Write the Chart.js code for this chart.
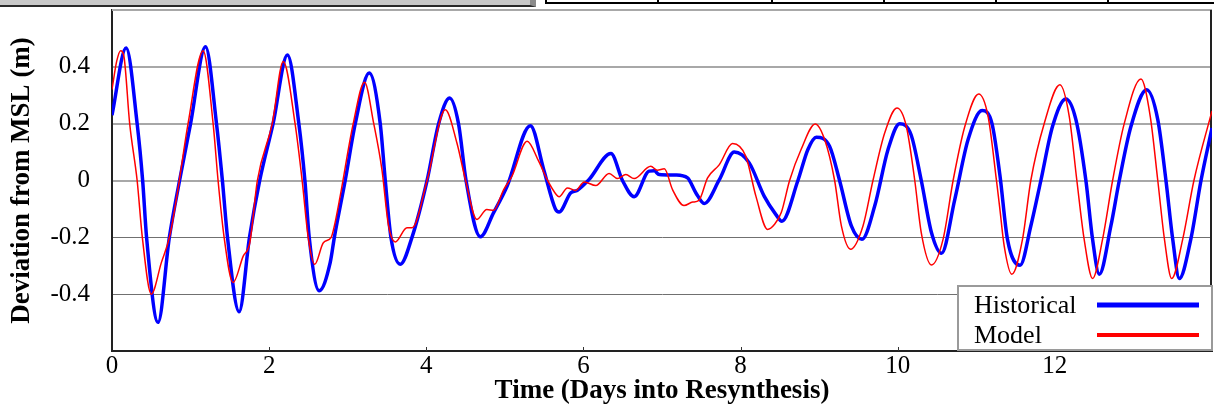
<!DOCTYPE html>
<html>
<head>
<meta charset="utf-8">
<script src="https://cdn.jsdelivr.net/npm/chart.js@4/dist/chart.umd.min.js"></script>
<style>
  html, body { margin: 0; padding: 0; background: #fff; }
  #wrap { position: relative; width: 1214px; height: 409px; overflow: hidden; background: #fff; }
  #chart { position: absolute; left: 0; top: 0; }
  .toolbar { position: absolute; left: 0; top: 0; width: 530px; height: 5px; background: #c9c9c9;
             border-bottom: 2px solid #2a2a2a; border-right: 6px solid #8a8a8a; }
  .cells { position: absolute; left: 545px; top: 0; width: 667px; height: 2px;
           border-left: 2px solid #000; border-bottom: 2px solid #000; }
  .cells i { position: absolute; top: 0; width: 2px; height: 2px; background: #000; }
</style>
</head>
<body>
<div id="wrap">
  <canvas id="chart" width="1214" height="409"></canvas>
  <div class="toolbar"></div>
  <div class="cells"><i style="left:110px"></i><i style="left:224px"></i><i style="left:336px"></i><i style="left:448px"></i><i style="left:560px"></i></div>
</div>
<script>
// Sea level deviation from mean sea level, in metres, against days into the resynthesis run
const histTime = [
  0.00, 0.18, 0.32, 0.39, 0.44, 0.586, 0.73, 0.86, 1.00, 1.19, 1.33, 1.405, 1.47, 1.618, 1.75, 1.88,
  2.05, 2.233, 2.378, 2.455, 2.51, 2.637, 2.777, 2.83, 2.968, 3.096, 3.274, 3.414, 3.478, 3.55, 3.669,
  3.818, 4.01, 4.157, 4.297, 4.41, 4.506, 4.688, 4.857, 5.028, 5.325, 5.494, 5.643, 5.69, 5.84, 5.92,
  6.07, 6.35, 6.497, 6.646, 6.837, 6.90, 6.964, 7.176, 7.325, 7.43, 7.537, 7.73, 7.92, 8.11, 8.30,
  8.45, 8.526, 8.73, 8.857, 8.964, 9.134, 9.26, 9.41, 9.545, 9.707, 9.877, 10.025, 10.17, 10.30,
  10.43, 10.557, 10.726, 10.896, 11.074, 11.20, 11.30, 11.397, 11.558, 11.694, 11.822, 11.97, 12.14,
  12.268, 12.395, 12.48, 12.565, 12.713, 12.82, 12.968, 13.168, 13.31, 13.414, 13.50, 13.584, 13.73,
  13.86, 14.00
];
const histLevel = [
  0.23, 0.466, 0.20, 0.00, -0.20, -0.499, -0.20, 0.00, 0.20, 0.471, 0.20, 0.00, -0.20, -0.462, -0.20, 0.00,
  0.20, 0.442, 0.20, 0.00, -0.20, -0.388, -0.289, -0.20, 0.00, 0.20, 0.378, 0.20, 0.00, -0.20, -0.295,
  -0.20, 0.00, 0.20, 0.29, 0.20, 0.00, -0.198, -0.113, -0.02, 0.193, 0.039, -0.100, -0.111, -0.043, -0.035,
  0.003, 0.095, 0.00, -0.057, 0.033, 0.034, 0.021, 0.019, 0.009, -0.043, -0.081, 0.003, 0.10, 0.062, -0.055,
  -0.12, -0.143, 0.00, 0.109, 0.152, 0.12, 0.00, -0.16, -0.207, -0.09, 0.109, 0.20, 0.161, 0.00,
  -0.184, -0.256, -0.067, 0.144, 0.246, 0.20, 0.02, -0.207, -0.298, -0.16, 0.00, 0.19, 0.287,
  0.214, 0.00, -0.207, -0.33, -0.16, 0.00, 0.19, 0.319, 0.214, 0.00, -0.207, -0.345, -0.207,
  0.00, 0.185
];
const modelTime = [
  0.00, 0.06, 0.11, 0.15, 0.225, 0.32, 0.386, 0.50, 0.628, 0.735, 0.84, 0.968, 1.16, 1.287, 1.35, 1.427,
  1.54, 1.67, 1.754, 1.85, 2.04, 2.18, 2.33, 2.42, 2.497, 2.58, 2.69, 2.79, 2.83, 2.904, 3.07, 3.214,
  3.33, 3.435, 3.52, 3.605, 3.754, 3.82, 4.01, 4.242, 4.39, 4.497, 4.645, 4.77, 4.857, 4.985, 5.09,
  5.283, 5.43, 5.537, 5.656, 5.69, 5.796, 5.90, 6.01, 6.157, 6.327, 6.433, 6.54, 6.645, 6.857, 6.94,
  7.03, 7.134, 7.28, 7.39, 7.47, 7.58, 7.73, 7.898, 8.067, 8.195, 8.344, 8.433, 8.518, 8.624, 8.77,
  8.95, 9.07, 9.197, 9.283, 9.40, 9.558, 9.685, 9.834, 9.99, 10.11, 10.217, 10.30, 10.43, 10.577,
  10.705, 10.854, 11.03, 11.15, 11.257, 11.30, 11.355, 11.452, 11.588, 11.694, 11.864, 12.064, 12.183,
  12.28, 12.373, 12.48, 12.607, 12.735, 12.883, 13.096, 13.214, 13.31, 13.395, 13.487, 13.627, 13.77,
  14.00
];
const modelLevel = [
  0.32, 0.42, 0.457, 0.44, 0.20, 0.00, -0.20, -0.40, -0.289, -0.195, -0.03, 0.20, 0.457, 0.20, 0.00, -0.20,
  -0.359, -0.266, -0.219, 0.00, 0.20, 0.419, 0.20, 0.00, -0.20, -0.295, -0.219, -0.20, -0.16, -0.055, 0.20, 0.346,
  0.202, 0.039, -0.16, -0.216, -0.166, -0.166, 0.00, 0.249, 0.132, 0.004, -0.137, -0.102, -0.105, -0.032, 0.015,
  0.138, 0.068, 0.004, -0.050, -0.057, -0.026, -0.035, -0.005, -0.018, 0.025, 0.007, 0.021, 0.007, 0.05, 0.036,
  0.041, -0.032, -0.088, -0.076, -0.07, 0.009, 0.056, 0.13, 0.085, -0.055, -0.172, -0.154, -0.113, 0.00, 0.109,
  0.199, 0.144, 0.00, -0.16, -0.242, -0.16, 0.00, 0.167, 0.255, 0.19, 0.00, -0.184, -0.297, -0.207,
  0.00, 0.19, 0.304, 0.226, 0.00, -0.10, -0.23, -0.33, -0.207, 0.00, 0.20, 0.337, 0.226,
  0.00, -0.207, -0.345, -0.207, 0.00, 0.20, 0.357, 0.226, 0.00, -0.207, -0.345, -0.207, 0.00,
  0.245
];
const seriesNames = ['Historical', 'Model'];
const xTickValues = [0, 2, 4, 6, 8, 10, 12];
const yTickValues = [-0.4, -0.2, 0, 0.2, 0.4];

const SERIF = "'Liberation Serif', 'Times New Roman', serif";
const toPoints = (xs, ys) => xs.map((t, i) => ({ x: t, y: ys[i] }));

// Frame pieces Chart.js has no option for: grey top edge, right edge, inner x tick marks, boxed legend
const framePlugin = {
  id: 'frame',
  beforeDatasetsDraw(chart) {
    const { ctx, chartArea: { left, right, top, bottom } } = chart;
    ctx.save();
    ctx.strokeStyle = '#a8a8a8';
    ctx.lineWidth = 2;
    ctx.beginPath(); ctx.moveTo(left, top); ctx.lineTo(right, top); ctx.stroke();
    ctx.strokeStyle = '#222';
    ctx.beginPath(); ctx.moveTo(right - 1, top); ctx.lineTo(right - 1, bottom); ctx.stroke();
    const xs = chart.scales.x;
    ctx.lineWidth = 1;
    ctx.strokeStyle = '#333';
    xTickValues.forEach(v => {
      if (v === 0) return;
      const px = Math.round(xs.getPixelForValue(v)) + 0.5;
      ctx.beginPath(); ctx.moveTo(px, bottom); ctx.lineTo(px, bottom - 4); ctx.stroke();
    });
    ctx.restore();
  },
  afterDraw(chart) {
    const { ctx, chartArea: { right, bottom } } = chart;
    const w = 256, h = 66;
    const bx = right + 1 - w, by = bottom - h;
    ctx.save();
    ctx.fillStyle = '#fff';
    ctx.fillRect(bx, by, w, h);
    ctx.strokeStyle = '#9a9a9a';
    ctx.lineWidth = 2;
    ctx.strokeRect(bx + 1, by + 1, w - 2, h - 2);
    ctx.font = '26px ' + SERIF;
    ctx.fillStyle = '#000';
    ctx.textBaseline = 'alphabetic';
    ctx.textAlign = 'left';
    chart.data.datasets.forEach((ds, i) => {
      const rowY = by + 28 + i * 30;
      ctx.fillText(ds.label, bx + 17, rowY);
      ctx.strokeStyle = ds.borderColor;
      ctx.lineWidth = i === 0 ? 5 : 4;
      ctx.beginPath();
      ctx.moveTo(bx + 140, rowY - 8);
      ctx.lineTo(bx + 242, rowY - 8);
      ctx.stroke();
    });
    ctx.restore();
  }
};

new Chart(document.getElementById('chart'), {
  type: 'line',
  data: {
    datasets: [
      {
        label: seriesNames[0],
        data: toPoints(histTime, histLevel),
        borderColor: '#0000ff',
        borderWidth: 3.5,
        pointRadius: 0,
        cubicInterpolationMode: 'monotone',
        order: 2
      },
      {
        label: seriesNames[1],
        data: toPoints(modelTime, modelLevel),
        borderColor: '#ff0000',
        borderWidth: 1.5,
        pointRadius: 0,
        cubicInterpolationMode: 'monotone',
        order: 1
      }
    ]
  },
  options: {
    responsive: false,
    animation: false,
    devicePixelRatio: 1,
    layout: { padding: { left: 0, top: 10, right: 2, bottom: 0 } },
    plugins: { legend: { display: false }, tooltip: { enabled: false } },
    scales: {
      x: {
        type: 'linear',
        min: 0,
        max: 14,
        afterBuildTicks: s => { s.ticks = xTickValues.map(v => ({ value: v })); },
        afterFit: s => { s.height = 58; s.paddingLeft = 0; s.paddingRight = 0; },
        ticks: {
          autoSkip: false,
          maxRotation: 0,
          padding: 0,
          color: '#000',
          font: { family: SERIF, size: 25 },
          callback: v => String(v)
        },
        grid: { display: true, drawOnChartArea: false, drawTicks: false },
        border: { color: '#222', width: 2 },
        title: {
          display: true,
          text: 'Time (Days into Resynthesis)',
          color: '#000',
          font: { family: SERIF, size: 27, weight: 'bold' },
          padding: { top: 0, bottom: 2 }
        }
      },
      y: {
        type: 'linear',
        min: -0.6,
        max: 0.6,
        afterBuildTicks: s => { s.ticks = yTickValues.map(v => ({ value: v })); },
        afterFit: s => { s.width = 112; s.paddingTop = 0; s.paddingBottom = 0; },
        ticks: {
          padding: 22,
          color: '#000',
          font: { family: SERIF, size: 25 },
          callback: v => { const r = Math.round(v * 10) / 10; return r === 0 ? '0' : String(r); }
        },
        grid: {
          drawTicks: false,
          color: c => (c.tick && c.tick.value < -0.05 ? '#707070' : '#a8a8a8'),
          lineWidth: c => (c.tick && c.tick.value < -0.05 ? 1 : 2)
        },
        border: { color: '#222', width: 2 },
        title: {
          display: true,
          text: 'Deviation from MSL (m)',
          color: '#000',
          font: { family: SERIF, size: 27, weight: 'bold' },
          padding: { top: 6, bottom: 0 }
        }
      }
    }
  },
  plugins: [framePlugin]
});
</script>
</body>
</html>
